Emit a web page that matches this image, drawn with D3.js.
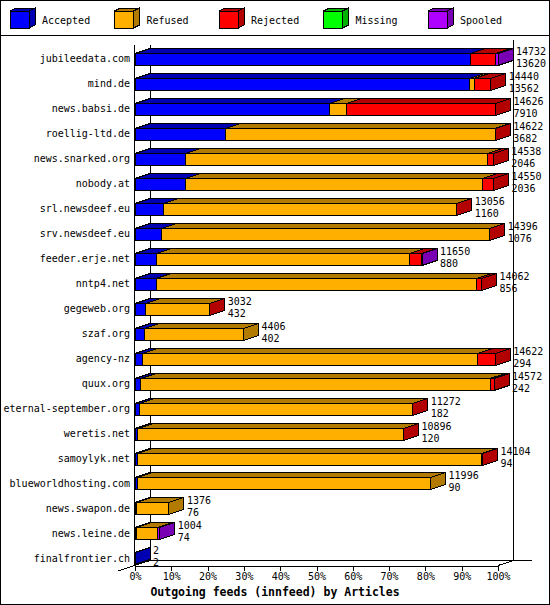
<!DOCTYPE html>
<html>
<head>
<meta charset="utf-8">
<script src="https://cdn.jsdelivr.net/npm/d3@7"></script>
<style>
    body { margin: 0; background: #fff; }
    svg { display: block; }
    text { font-family: "DejaVu Sans Mono", "Liberation Mono", monospace; fill: #000; }
</style>
</head>
<body>
<div id="chart"></div>
<script>
// values
const hosts = ["jubileedata.com", "mind.de", "news.babsi.de", "roellig-ltd.de", "news.snarked.org",
    "nobody.at", "srl.newsdeef.eu", "srv.newsdeef.eu", "feeder.erje.net", "nntp4.net",
    "gegeweb.org", "szaf.org", "agency-nz", "quux.org", "eternal-september.org",
    "weretis.net", "samoylyk.net", "blueworldhosting.com", "news.swapon.de", "news.leine.de",
    "finalfrontier.ch"];
const offered  = [14732, 14440, 14626, 14622, 14538, 14550, 13056, 14396, 11650, 14062, 3032, 4406, 14622, 14572, 11272, 10896, 14104, 11996, 1376, 1004, 2];
const accepted = [13620, 13562, 7910, 3682, 2046, 2036, 1160, 1076, 880, 856, 432, 402, 294, 242, 182, 120, 94, 90, 76, 74, 2];
const refused  = [0, 200, 690, 10930, 12247, 12084, 11886, 13310, 10250, 12991, 2590, 4004, 13618, 14170, 11080, 10766, 13970, 11906, 1300, 830, 0];
const rejected = [1000, 678, 6026, 10, 245, 430, 10, 10, 500, 215, 10, 0, 710, 160, 10, 10, 40, 0, 0, 0, 0];
const missing  = [0, 0, 0, 0, 0, 0, 0, 0, 0, 0, 0, 0, 0, 0, 0, 0, 0, 0, 0, 0, 0];
const spooled  = [112, 0, 0, 0, 0, 0, 0, 0, 20, 0, 0, 0, 0, 0, 0, 0, 0, 0, 0, 100, 0];

const seriesNames = ["Accepted", "Refused", "Rejected", "Missing", "Spooled"];
const seriesColors = ["#0000ff", "#ffaf00", "#ff0000", "#00ff00", "#af00ff"];
const pctTicks = [0, 10, 20, 30, 40, 50, 60, 70, 80, 90, 100];
const title = "Outgoing feeds (innfeed) by Articles";

const W = 550, H = 605;
const depthX = 15, depthY = 5;
const fontSize = "10px";

let svg = d3.select("#chart").append("svg")
    .attr("width", W)
    .attr("height", H)
    .attr("shape-rendering", "crispEdges");

function dark(c) {
    return d3.rgb(c).darker(1).formatHex();
}

function poly(g, pts, fill) {
    g.append("polygon")
        .attr("points", pts.map(p => p.join(",")).join(" "))
        .attr("fill", fill)
        .attr("stroke", "#000")
        .attr("stroke-width", 1);
}

// frame + legend separator
svg.append("rect")
    .attr("x", 0.5).attr("y", 0.5)
    .attr("width", W - 1).attr("height", H - 1)
    .attr("fill", "none").attr("stroke", "#000");
svg.append("line")
    .attr("x1", 0).attr("x2", W)
    .attr("y1", 35.5).attr("y2", 35.5)
    .attr("stroke", "#000");

// legend
let legend = svg.append("g").attr("class", "legend");
seriesNames.forEach(function(name, i) {
    let x0 = 10 + i * 104.5, y0 = 11, w = 19, h = 17, dx = 6, dy = 3;
    let c = seriesColors[i];
    poly(legend, [[x0, y0], [x0 + dx, y0 - dy], [x0 + w + dx, y0 - dy], [x0 + w, y0]], dark(c));
    poly(legend, [[x0 + w, y0], [x0 + w + dx, y0 - dy], [x0 + w + dx, y0 + h - dy], [x0 + w, y0 + h]], dark(c));
    legend.append("rect")
        .attr("x", x0).attr("y", y0)
        .attr("width", w).attr("height", h)
        .attr("fill", c).attr("stroke", "#000");
    legend.append("text")
        .attr("x", x0 + 32).attr("y", 24)
        .attr("font-size", fontSize)
        .text(name);
});

// scales
let x = d3.scaleLinear()
    .domain([0, d3.max(offered)])
    .range([135, 498]);
let pct = d3.scaleLinear()
    .domain([0, 100])
    .range([135, 498]);
let y = d3.scaleBand()
    .domain(hosts)
    .range([46.8, 570.8])
    .paddingInner(0.52)
    .paddingOuter(0.26);

// walls (behind the bars)
let walls = svg.append("g").attr("stroke", "#000").attr("fill", "none");
walls.append("line").attr("x1", 150.5).attr("x2", 150.5).attr("y1", 45).attr("y2", 560.5);
walls.append("line").attr("x1", 513.5).attr("x2", 513.5).attr("y1", 40).attr("y2", 560.5);
walls.append("line").attr("x1", 150).attr("x2", 532).attr("y1", 560.5).attr("y2", 560.5);
walls.append("line").attr("x1", 134.5).attr("x2", 134.5).attr("y1", 45).attr("y2", 565.5)
    .attr("shape-rendering", "auto");
walls.append("line").attr("x1", 118).attr("y1", 571).attr("x2", 150).attr("y2", 560.5);
walls.append("line").attr("x1", 498).attr("y1", 565.5).attr("x2", 513.5).attr("y2", 560.5);

// x axis (percent)
let xAxis = d3.axisBottom(pct)
    .tickValues(pctTicks)
    .tickSize(5)
    .tickSizeOuter(0)
    .tickPadding(2)
    .tickFormat(d => d + "%");
let gx = svg.append("g")
    .attr("transform", "translate(0, 565.5)")
    .call(xAxis);
gx.selectAll("text")
    .attr("font-family", "DejaVu Sans Mono")
    .attr("font-size", fontSize)
    .attr("fill", "#000");
gx.selectAll("line, path").attr("stroke", "#000");

// host labels
let yAxis = d3.axisLeft(y)
    .tickSize(0)
    .tickPadding(5);
let gy = svg.append("g")
    .attr("transform", "translate(135, 0)")
    .call(yAxis);
gy.select(".domain").remove();
gy.selectAll("text")
    .attr("font-family", "DejaVu Sans Mono")
    .attr("font-size", fontSize)
    .attr("fill", "#000");

// bars
const series = [accepted, refused, rejected, missing, spooled];
let bars = svg.append("g").attr("class", "bars");
hosts.forEach(function(host, i) {
    let g = bars.append("g").attr("class", "bar");
    let top = Math.round(y(host)) + 0.5;
    let bottom = top + Math.round(y.bandwidth());
    let cum = 0, lastColor = seriesColors[0], lastEnd = x(0);
    series.forEach(function(s, k) {
        let v = s[i];
        if (v <= 0) return;
        let x0 = x(cum), x1 = x(cum + v);
        cum += v;
        poly(g, [[x0, top], [x0 + depthX, top - depthY], [x1 + depthX, top - depthY], [x1, top]], dark(seriesColors[k]));
        g.append("rect")
            .attr("x", x0).attr("y", top)
            .attr("width", x1 - x0).attr("height", bottom - top)
            .attr("fill", seriesColors[k])
            .attr("stroke", "#000");
        lastColor = seriesColors[k];
        lastEnd = x1;
    });
    poly(g, [[lastEnd, top], [lastEnd + depthX, top - depthY], [lastEnd + depthX, bottom - depthY], [lastEnd, bottom]], dark(lastColor));

    let lx = x(offered[i]) + 18;
    g.append("text")
        .attr("x", lx).attr("y", top + 1)
        .attr("font-size", fontSize)
        .text(offered[i]);
    g.append("text")
        .attr("x", lx).attr("y", bottom + 1)
        .attr("font-size", fontSize)
        .text(accepted[i]);
});

// title
svg.append("text")
    .attr("x", W / 2).attr("y", 595.5)
    .attr("text-anchor", "middle")
    .attr("font-size", "11.5px")
    .attr("font-weight", "bold")
    .text(title);
</script>
</body>
</html>
